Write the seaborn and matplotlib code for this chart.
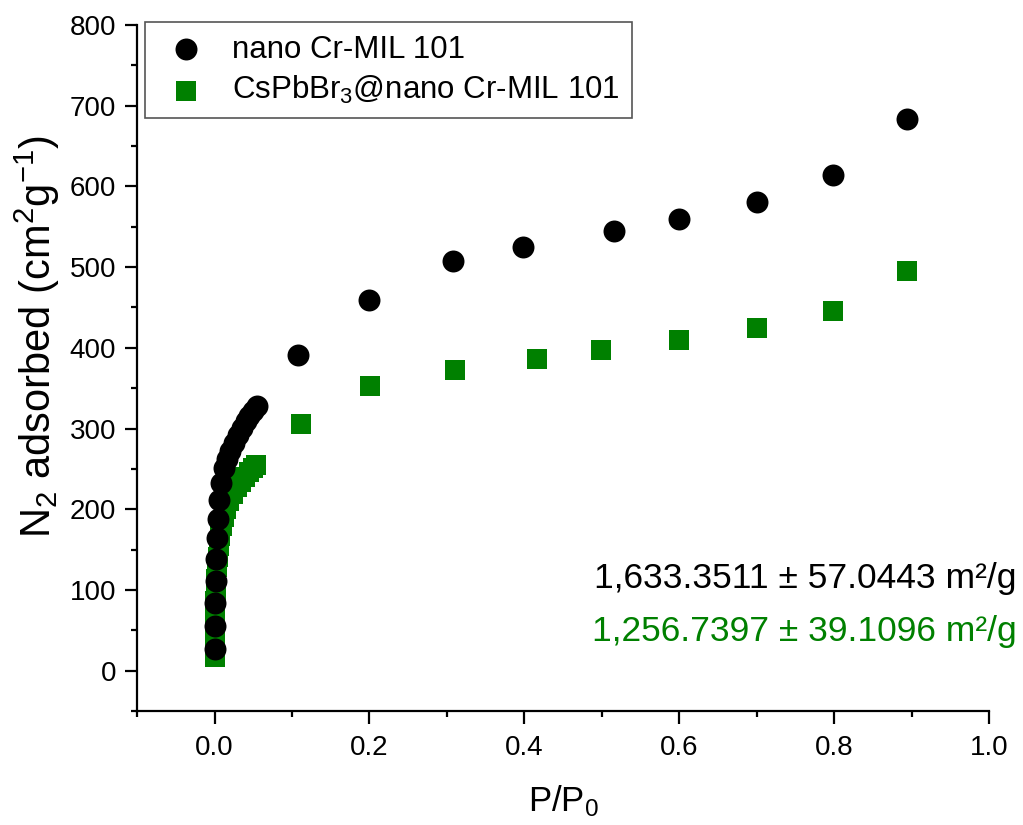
import numpy as np
import pandas as pd
import matplotlib
matplotlib.use("Agg")
import matplotlib.pyplot as plt
from matplotlib.ticker import MultipleLocator
import seaborn as sns

# N2 adsorption isotherms (P/P0 vs adsorbed volume)
mil_p = [0.0002, 0.0005, 0.001, 0.0015, 0.002, 0.003, 0.004, 0.006, 0.008, 0.012,
         0.016, 0.020, 0.025, 0.030, 0.035, 0.040, 0.045, 0.050, 0.055,
         0.108, 0.200, 0.308, 0.398, 0.515, 0.599, 0.700, 0.798, 0.894]
mil_v = [27, 56, 84, 111, 139, 164, 188, 211, 232, 251,
         262, 272, 282, 292, 301, 309, 316, 322, 328,
         391, 459, 508, 525, 544, 559, 580, 614, 683]

cs_p = [0.0, 0.0, 0.0002, 0.0004, 0.0007, 0.001, 0.0015, 0.002, 0.003, 0.004,
        0.0055, 0.007, 0.009, 0.012, 0.015, 0.019, 0.024, 0.029, 0.034, 0.039,
        0.044, 0.049, 0.054,
        0.111, 0.201, 0.311, 0.416, 0.499, 0.599, 0.700, 0.798, 0.894]
cs_v = [17, 30, 44, 58, 72, 86, 100, 114, 128, 141,
        155, 167, 179, 190, 200, 210, 219, 227, 234, 240,
        246, 251, 255,
        306, 353, 372, 386, 397, 409, 424, 445, 495]

label_mil = "nano Cr-MIL 101"
label_cs = "CsPbBr$_3$@nano Cr-MIL 101"
bet_mil = "1,633.3511 ± 57.0443 m²/g"
bet_cs = "1,256.7397 ± 39.1096 m²/g"

x_ticks = [0.0, 0.2, 0.4, 0.6, 0.8, 1.0]
y_ticks = [0, 100, 200, 300, 400, 500, 600, 700, 800]

GREEN = "#008000"

sns.set_theme(style="ticks")
plt.rcParams["font.family"] = ["Liberation Sans", "DejaVu Sans"]
plt.rcParams["mathtext.default"] = "regular"
plt.rcParams["text.color"] = "black"
plt.rcParams["axes.labelcolor"] = "black"

fig = plt.figure(figsize=(10.23, 8.25), dpi=100)
ax = fig.add_axes([0.134, 0.138, 0.833, 0.832])

df_mil = pd.DataFrame({"p": mil_p, "v": mil_v})
df_cs = pd.DataFrame({"p": cs_p, "v": cs_v})

sns.scatterplot(data=df_cs, x="p", y="v", ax=ax, marker="s", s=200,
                color=GREEN, linewidth=0, label=label_cs, zorder=2)
sns.scatterplot(data=df_mil, x="p", y="v", ax=ax, marker="o", s=250,
                color="black", linewidth=0, label=label_mil, zorder=3)

ax.set_xlim(-0.1, 1.0)
ax.set_ylim(-50, 800)
ax.set_xticks(x_ticks)
ax.set_xticklabels([f"{t:.1f}" for t in x_ticks])
ax.set_yticks(y_ticks)
ax.xaxis.set_minor_locator(MultipleLocator(0.1))
ax.yaxis.set_minor_locator(MultipleLocator(50))

for side in ("top", "right"):
    ax.spines[side].set_visible(False)
for side in ("left", "bottom"):
    ax.spines[side].set_linewidth(1.6)
    ax.spines[side].set_color("black")

ax.tick_params(which="major", direction="out", length=9, width=1.6,
               labelsize=20, color="black", labelcolor="black")
ax.tick_params(axis="y", which="major", pad=6)
ax.tick_params(axis="x", which="major", pad=8)
ax.tick_params(which="minor", direction="out", length=4.5, width=1.6,
               color="black")

ax.set_xlabel("P/P$_0$", fontsize=25, color="black")
ax.set_ylabel("N$_2$ adsorbed (cm$^2$g$^{-1}$)", fontsize=30, color="black")
ax.xaxis.set_label_coords(0.5, -0.105)
ax.yaxis.set_label_coords(-0.088, 0.545)

handles, labels = ax.get_legend_handles_labels()
order = [1, 0]
leg = ax.legend([handles[i] for i in order], [labels[i] for i in order],
                loc="upper left", bbox_to_anchor=(0.0094, 1.004),
                borderaxespad=0, fontsize=22.5, frameon=True, fancybox=False,
                edgecolor="#555555", framealpha=1, handlelength=1.8,
                handletextpad=0.58, borderpad=0.4, labelspacing=0.3)
leg.get_frame().set_linewidth(1.2)
for t in leg.get_texts():
    t.set_color("black")

fig.text(0.994, 0.299, bet_mil, ha="right", va="center", fontsize=25.5, color="black")
fig.text(0.994, 0.234, bet_cs, ha="right", va="center", fontsize=25.5, color=GREEN)

fig.savefig("out.png", dpi=100)
